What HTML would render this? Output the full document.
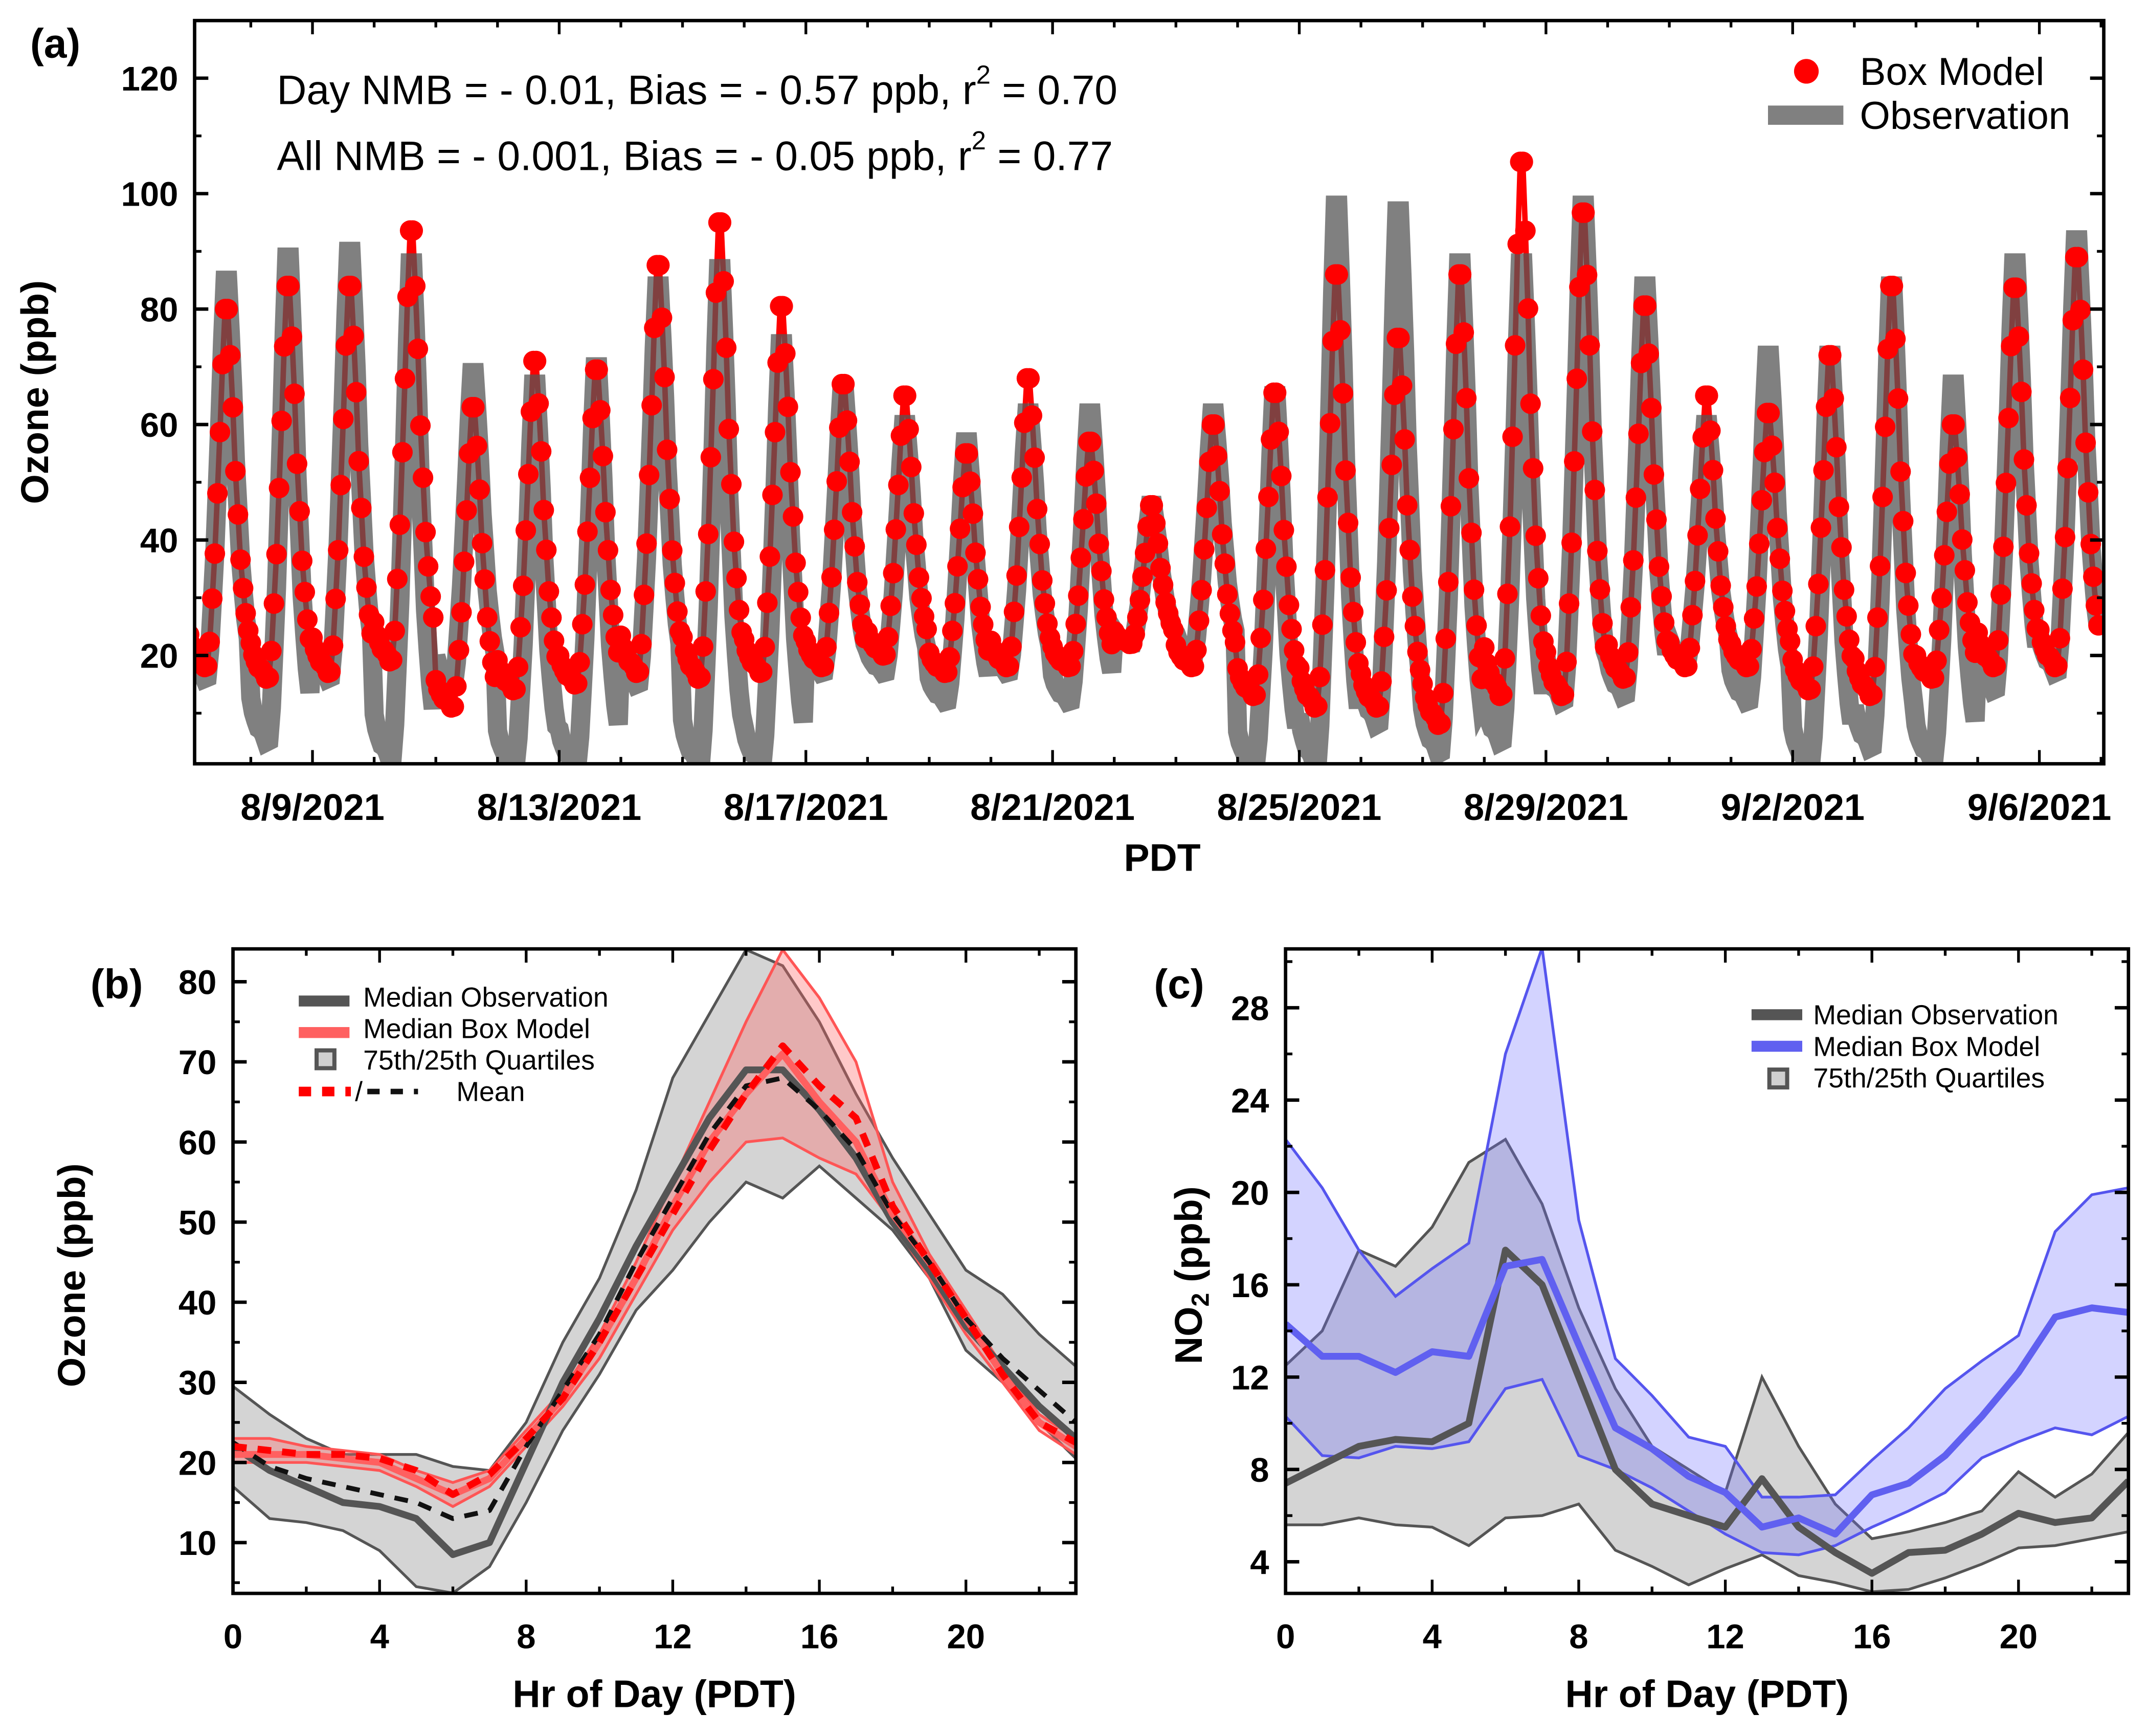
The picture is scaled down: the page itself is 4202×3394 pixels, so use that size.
<!DOCTYPE html>
<html><head><meta charset="utf-8">
<style>
html,body{margin:0;padding:0;background:#fff;}
svg{display:block;}
text{font-family:"Liberation Sans",Arial,sans-serif;}
.tk{font-weight:bold;font-size:25px;fill:#000;}
.tkd{font-weight:bold;font-size:27px;fill:#000;}
.ttl{font-weight:bold;font-size:28px;fill:#000;}
.lg{font-size:20px;fill:#000;}
</style></head>
<body>
<svg id="fig" width="4202" height="3394" viewBox="0 0 1568 1266" preserveAspectRatio="none" xmlns="http://www.w3.org/2000/svg">
<g id="pa"></g>
<g id="pb"></g>
<g id="pc"></g>
</svg>
<script>
// ---------- Panel (a) data: daily values Aug 7 .. Sep 6, 2021 ----------
const dayLabels = ["8/9/2021","8/13/2021","8/17/2021","8/21/2021","8/25/2021","8/29/2021","9/2/2021","9/6/2021"];
const modPeak = [80,84,84,93.6,63,71,69.5,87.6,95,80.5,67,65,55,68,57,46,60,65.5,86,75,86,105.5,96.7,80.6,65,62,72,84,60,83.7,89];
const modMin  = [18,16,17,19,11,14,15,17,16,17,18,20,17,18,18,22,18,13,11,11,8,13,13,16,18,18,14,13,16,18,18];
const obsPeak = [85,89,90,88,69,67,70,84,87,74,66,60,57,62,62,46,62,65,98,97,88,88,98,84,60,72,72,84,67,88,92];
const obsMin  = [16,5,16,2,15,1,1,15,1,1,17,17,12,17,12,22,20,1,1,8,3,5,12,13,19,12,1,4,2,14,17];
const aTicksY = [20,40,60,80,100,120];
const annot1 = "Day NMB = - 0.01, Bias = - 0.57 ppb, r";
const annot2 = "All NMB = - 0.001, Bias =  - 0.05 ppb,  r";

// ---------- Panel (b) data: hourly 0..23 ----------
const hours = [0,1,2,3,4,5,6,7,8,9,10,11,12,13,14,15,16,17,18,19,20,21,22,23];
const obsMedB = [22,19,17,15,14.5,13,8.5,10,20,30,38,47,55,63,69,69,64,58,50,44,37,32,27,23];
const obsQ75B = [29.5,26,23,21,21,21,19.5,19,25,35,43,54,68,76,84,82,75,66,58,51,44,41,36,32];
const obsQ25B = [17,13,12.5,11.5,9,4.5,3.7,7,15,24,31,39,44,50,55,53,57,53,49,43,34,30,25,20.5];
const obsMeanB = [22.5,19.5,18,17,16,15,13,14,22,29,36,45,53,61,67,68,64,59,51,45,38,33,29,25];
const modMedB = [21,21,21,20.5,20,18,16,18,23,28,35,43,52,60,66,71,65,60,51,45,38,31,25,22];
const modQ75B = [23,23,22,21.5,21,19,17.5,19,24,29,36,45,55,65,75,84,78,70,55,46,39,32,26,23];
const modQ25B = [20,20,20,19.5,19,17,14.5,17,22,27,33,41,49,55,60,60.5,58,56,50,43,36,30,24,21];
const modMeanB = [22,21.5,21,21,20.5,19,16,18.5,23,28,35,43,51,59,66,72,67,63,52,45,38,31,25,22.5];
const bTicksY = [10,20,30,40,50,60,70,80];
const xTicksH = [0,4,8,12,16,20];

// ---------- Panel (c) data ----------
const obsMedC = [7.4,8.2,9,9.3,9.2,10,17.5,16,12,8,6.5,6,5.5,7.6,5.5,4.4,3.5,4.4,4.5,5.2,6.1,5.7,5.9,7.5];
const obsQ75C = [12.5,14,17.5,16.8,18.5,21.3,22.3,19.5,15,11.5,9,8,7,12,9,6.5,5,5.3,5.7,6.2,7.9,6.8,7.8,9.6];
const obsQ25C = [5.6,5.6,5.9,5.6,5.5,4.7,5.9,6,6.5,4.5,3.8,3,3.7,4.3,3.4,3.1,2.7,2.8,3.3,3.9,4.6,4.7,5,5.3];
const modMedC = [14.3,12.9,12.9,12.2,13.1,12.9,16.8,17.1,13.4,9.8,8.9,7.7,7,5.5,5.9,5.2,6.9,7.4,8.6,10.3,12.2,14.6,15,14.8];
const modQ75C = [22.3,20.2,17.5,15.5,16.7,17.8,26,30.6,18.8,12.8,11.2,9.4,9,6.8,6.8,6.9,8.4,9.8,11.5,12.7,13.8,18.3,19.9,20.2];
const modQ25C = [10.3,8.6,8.5,9,8.9,9.2,11.5,11.9,8.6,8,7.2,6.2,5.2,4.4,4.3,4.7,5.5,6.2,7,8.5,9.2,9.8,9.5,10.3];
const cTicksY = [4,8,12,16,20,24,28];

const NS = "http://www.w3.org/2000/svg";
function mk(tag, attrs, parent){
  const e = document.createElementNS(NS, tag);
  for (const k in attrs) e.setAttribute(k, attrs[k]);
  parent.appendChild(e);
  return e;
}
function lin(d0,d1,r0,r1){ return v => r0 + (v-d0)/(d1-d0)*(r1-r0); }
function pts(xs, ys, X, Y){ return xs.map((x,i)=>X(x).toFixed(2)+","+Y(ys[i]).toFixed(2)).join(" "); }

// =================== Panel A ===================
(function(){
  const g = document.getElementById('pa');
  const L=142,R=1535,T=15,B=557;
  const X = lin(0, 28, 228, 1488);
  const Y = lin(20, 120, 478, 57);
  const clip = mk('clipPath',{id:'clipA'},g);
  mk('rect',{x:L,y:T,width:R-L,height:B-T},clip);
  const mn = Math.min(...obsMedB), mx = Math.max(...obsMedB);
  const shape = obsMedB.map(v => Math.pow((v-mn)/(mx-mn),1.6));
  const tH=[], mV=[], oV=[];
  for (let d=0; d<modPeak.length; d++){
    for (let h=0; h<24; h++){
      tH.push(d-2 + h/24);
      mV.push(modMin[d] + (modPeak[d]-modMin[d])*shape[h]);
      oV.push(obsMin[d] + (obsPeak[d]-obsMin[d])*shape[h]);
    }
  }
  const data = mk('g',{'clip-path':'url(#clipA)'},g);
  const ml = mk('polyline',{points:pts(tH,mV,X,Y),fill:'none',stroke:'#ff0000','stroke-width':4,'stroke-linejoin':'round'},data);
  
  
  const ol = mk('polyline',{points:pts(tH,oV,X,Y),fill:'none',stroke:'rgba(85,85,85,0.75)','stroke-width':14,'stroke-linejoin':'miter'},data);
  
  
  const mg = mk('g',{},data);
  
  
  tH.forEach((t,i)=>{
    const c = mk('circle',{cx:X(t).toFixed(2),cy:Y(mV[i]).toFixed(2),r:7.5,fill:'#ff0000'},mg);
    
    
  });
  const fr = mk('rect',{x:L,y:T,width:R-L,height:B-T,fill:'none',stroke:'#000','stroke-width':2.5},g);
  
  
  aTicksY.forEach(v=>{
    mk('line',{x1:L,x2:L+10,y1:Y(v),y2:Y(v),stroke:'#000','stroke-width':2.5},g);
    mk('line',{x1:R,x2:R-10,y1:Y(v),y2:Y(v),stroke:'#000','stroke-width':2.5},g);
    const t = mk('text',{x:L-12,y:Y(v)+9,'text-anchor':'end',class:'tk'},g);
    t.textContent = v;
    
    
  });
  for (let v=10; v<=130; v+=10){ if (v%20) {
    mk('line',{x1:L,x2:L+5,y1:Y(v),y2:Y(v),stroke:'#000','stroke-width':2},g);
    mk('line',{x1:R,x2:R-5,y1:Y(v),y2:Y(v),stroke:'#000','stroke-width':2},g);}}
  for (let d=-1; d<=29; d++){
    const x = X(d); if (x<L||x>R) continue;
    const major = (d%4===0);
    mk('line',{x1:x,x2:x,y1:B,y2:B-(major?10:5),stroke:'#000','stroke-width':2},g);
    mk('line',{x1:x,x2:x,y1:T,y2:T+(major?10:5),stroke:'#000','stroke-width':2},g);
  }
  dayLabels.forEach((lab,i)=>{
    const t = mk('text',{x:X(i*4),y:598,'text-anchor':'middle',class:'tkd'},g);
    t.textContent = lab;
    
    
  });
  let t = mk('text',{x:848,y:635,'text-anchor':'middle',class:'ttl'},g); t.textContent='PDT';
   
  t = mk('text',{x:0,y:0,'text-anchor':'middle',class:'ttl',transform:'translate(35,286) rotate(-90)'},g); t.textContent='Ozone (ppb)';
   
  t = mk('text',{x:22,y:42,class:'ttl',style:'font-size:30px'},g); t.textContent='(a)';
   
  t = mk('text',{x:202,y:76,style:'font-size:30px'},g); t.textContent=annot1;
  let s = mk('tspan',{dy:-15,style:'font-size:19px'},t); s.textContent='2';
  s = mk('tspan',{dy:15},t); s.textContent=' = 0.70';
   
  t = mk('text',{x:202,y:124,style:'font-size:30px'},g); t.textContent=annot2;
  s = mk('tspan',{dy:-15,style:'font-size:19px'},t); s.textContent='2';
  s = mk('tspan',{dy:15},t); s.textContent='  = 0.77';
   
  const lg = mk('g',{},g);  
  mk('circle',{cx:1318,cy:52,r:9,fill:'#ff0000'},lg);
  t = mk('text',{x:1357,y:62,style:'font-size:28.5px'},lg); t.textContent='Box Model';
   
  mk('line',{x1:1290,x2:1345,y1:84,y2:84,stroke:'rgba(85,85,85,0.75)','stroke-width':14},lg);
  t = mk('text',{x:1357,y:94,style:'font-size:28.5px'},lg); t.textContent='Observation';
   
})();

// =================== Diurnal panel helper ===================
function diurnal(gid, L, R, T, B, ymin, ymax, yTicks, minorStep, cfg){
  const g = document.getElementById(gid);
  const X = lin(0, 23, L, R);
  const Y = lin(ymin, ymax, B, T);
  const cid = 'clip'+gid;
  const clip = mk('clipPath',{id:cid},g);
  mk('rect',{x:L,y:T,width:R-L,height:B-T},clip);
  const d = mk('g',{'clip-path':'url(#'+cid+')'},g);
  cfg.bands.forEach(bd=>{
    const poly = pts(hours,bd.hi,X,Y)+" "+pts(hours.slice().reverse(),bd.lo.slice().reverse(),X,Y);
    const p = mk('polygon',{points:poly,fill:bd.fill,stroke:'none'},d);
    
    
    [bd.hi,bd.lo].forEach(arr=>{
      const e = mk('polyline',{points:pts(hours,arr,X,Y),fill:'none',stroke:bd.edge,'stroke-width':2},d);
      
      
    });
  });
  cfg.lines.forEach(ln=>{
    const a = {points:pts(hours,ln.v,X,Y),fill:'none',stroke:ln.color,'stroke-width':ln.w,'stroke-linejoin':'round'};
    if (ln.dash) a['stroke-dasharray']=ln.dash;
    const e = mk('polyline',a,d);
    
    
  });
  const fr = mk('rect',{x:L,y:T,width:R-L,height:B-T,fill:'none',stroke:'#000','stroke-width':2.5},g);
  
  
  yTicks.forEach(v=>{
    mk('line',{x1:L,x2:L+10,y1:Y(v),y2:Y(v),stroke:'#000','stroke-width':2.5},g);
    mk('line',{x1:R,x2:R-10,y1:Y(v),y2:Y(v),stroke:'#000','stroke-width':2.5},g);
    const t = mk('text',{x:L-12,y:Y(v)+9,'text-anchor':'end',class:'tk'},g);
    t.textContent = v;
    
    
  });
  for (let v=yTicks[0]-minorStep; v<=ymax; v+=minorStep*2){
    if (v<ymin) continue;
    mk('line',{x1:L,x2:L+5,y1:Y(v),y2:Y(v),stroke:'#000','stroke-width':2},g);
    mk('line',{x1:R,x2:R-5,y1:Y(v),y2:Y(v),stroke:'#000','stroke-width':2},g);
  }
  for (let h=0; h<=22; h+=2){
    const mj = h%4===0;
    mk('line',{x1:X(h),x2:X(h),y1:B,y2:B-(mj?10:5),stroke:'#000','stroke-width':2},g);
    mk('line',{x1:X(h),x2:X(h),y1:T,y2:T+(mj?10:5),stroke:'#000','stroke-width':2},g);
  }
  xTicksH.forEach(h=>{
    const t = mk('text',{x:X(h),y:B+40,'text-anchor':'middle',class:'tk'},g);
    t.textContent = h;
    
    
  });
  const t = mk('text',{x:(L+R)/2,y:B+83,'text-anchor':'middle',class:'ttl'},g);
  t.textContent='Hr of Day (PDT)';
  
  
  return g;
}

// =================== Panel B ===================
(function(){
  const g = diurnal('pb',170,785,692,1162,3.66,84.1,bTicksY,5,{
    bands:[
      {name:'obs-quartile-band',hi:obsQ75B,lo:obsQ25B,fill:'rgba(170,170,170,0.5)',edge:'#555'},
      {name:'model-quartile-band',hi:modQ75B,lo:modQ25B,fill:'rgba(255,100,100,0.35)',edge:'#ff5555'}
    ],
    lines:[
      {name:'obs-median-line',v:obsMedB,color:'#555',w:5},
      {name:'model-median-line',v:modMedB,color:'#ff6060',w:5},
      {name:'obs-mean-line',v:obsMeanB,color:'#111',w:3.5,dash:'10,8'},
      {name:'model-mean-line',v:modMeanB,color:'#ff0000',w:5,dash:'10,8'}
    ]});
  let t = mk('text',{x:0,y:0,'text-anchor':'middle',class:'ttl',transform:'translate(62,930) rotate(-90)'},g); t.textContent='Ozone (ppb)';
   
  t = mk('text',{x:66,y:728,class:'ttl',style:'font-size:30px'},g); t.textContent='(b)';
   
  const lg = mk('g',{},g);  
  mk('rect',{x:218,y:730-4,width:37,height:8,fill:'#555'},lg);
  mk('rect',{x:218,y:753-4,width:37,height:8,fill:'#ff6060'},lg);
  mk('rect',{x:231,y:766,width:13,height:13,fill:'#d0d0d0',stroke:'#555','stroke-width':3},lg);
  mk('line',{x1:218,x2:256,y1:796,y2:796,stroke:'#ff0000','stroke-width':7,'stroke-dasharray':'9,8'},lg);
  mk('line',{x1:268,x2:305,y1:796,y2:796,stroke:'#111','stroke-width':4,'stroke-dasharray':'9,8'},lg);
  const labs=[['Median Observation',265,734],['Median Box Model',265,757],['75th/25th Quartiles',265,780],['/',259,803],['Mean',333,803]];
  labs.forEach(l=>{ const e=mk('text',{x:l[1],y:l[2],class:'lg'},lg); e.textContent=l[0];
      });
})();

// =================== Panel C ===================
(function(){
  const g = diurnal('pc',938,1553,692,1162,2.63,30.55,cTicksY,2,{
    bands:[
      {name:'obs-quartile-band',hi:obsQ75C,lo:obsQ25C,fill:'rgba(170,170,170,0.5)',edge:'#555'},
      {name:'model-quartile-band',hi:modQ75C,lo:modQ25C,fill:'rgba(110,110,255,0.3)',edge:'#5555ee'}
    ],
    lines:[
      {name:'obs-median-line',v:obsMedC,color:'#555',w:5},
      {name:'model-median-line',v:modMedC,color:'#6060f0',w:5}
    ]});
  let t = mk('text',{x:0,y:0,'text-anchor':'middle',class:'ttl',transform:'translate(877,930) rotate(-90)'},g);
  t.textContent='NO';
  let s = mk('tspan',{dy:5,style:'font-size:18px'},t); s.textContent='2';
  s = mk('tspan',{dy:-5},t); s.textContent=' (ppb)';
   
  t = mk('text',{x:842,y:728,class:'ttl',style:'font-size:30px'},g); t.textContent='(c)';
   
  const lg = mk('g',{},g);  
  mk('rect',{x:1278,y:740-4,width:37,height:8,fill:'#555'},lg);
  mk('rect',{x:1278,y:763-4,width:37,height:8,fill:'#6060f0'},lg);
  mk('rect',{x:1291,y:780,width:13,height:13,fill:'#d0d0d0',stroke:'#555','stroke-width':3},lg);
  const labs=[['Median Observation',1323,747],['Median Box Model',1323,770],['75th/25th Quartiles',1323,793]];
  labs.forEach(l=>{ const e=mk('text',{x:l[1],y:l[2],class:'lg'},lg); e.textContent=l[0];
      });
})();
</script>
</body></html>
